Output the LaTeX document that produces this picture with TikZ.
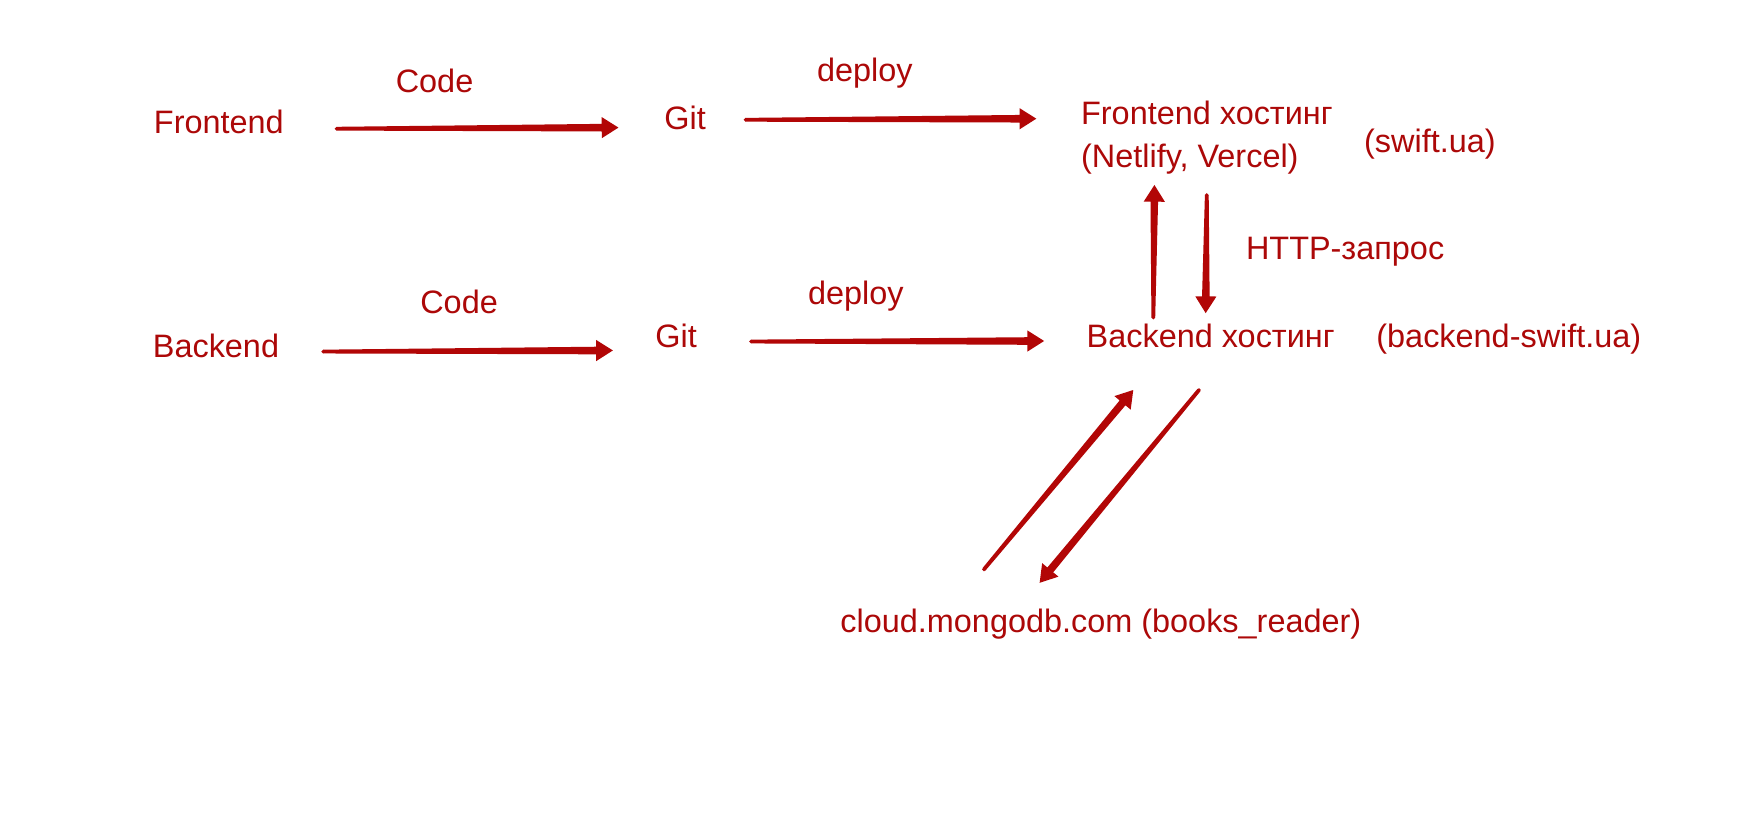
\documentclass[tikz,border=0pt]{standalone}
\usepackage{fontspec}
\setmainfont{Liberation Sans}
\usetikzlibrary{calc}
\definecolor{txtred}{RGB}{172,8,8}
\definecolor{arrred}{RGB}{178,6,6}
\newcommand\tarrow[2]{%
  \coordinate (tE) at ($(#2)!15pt!(#1)$);
  \fill[arrred] ($(#1)!1.7pt!-90:(tE)$) -- ($(tE)!3.4pt!90:(#1)$) -- ($(tE)!9.5pt!90:(#1)$)
    -- (#2) -- ($(tE)!9.5pt!-90:(#1)$) -- ($(tE)!3.4pt!-90:(#1)$) -- ($(#1)!1.7pt!90:(tE)$) -- cycle;
  \fill[arrred] (#1) circle (1.7pt);
}
\begin{document}
\begin{tikzpicture}[x=1pt,y=-1pt,
  lbl/.style={anchor=base west,inner sep=0pt,text=txtred,font=\fontsize{29.1}{34}\selectfont}]
\useasboundingbox[fill=white] (0,0) rectangle (1566,746.7);
% labels
\node[lbl] (code1) at (355,83) {Code};
\node[lbl] (fe) at (138,120) {Frontend};
\node[lbl] (git1) at (596,116) {Git};
\node[lbl] (dep1) at (733,73) {deploy};
\node[lbl] (feh) at (970,112) {Frontend хостинг};
\node[lbl] (fehs) at (970,150) {(Netlify, Vercel)};
\node[lbl] (swift) at (1224,137) {(swift.ua)};
\node[lbl] (http) at (1118,233) {HTTP-запрос};
\node[lbl] (code2) at (377,281) {Code};
\node[lbl] (dep2) at (725,273) {deploy};
\node[lbl] (be) at (137,321) {Backend};
\node[lbl] (git2) at (588,312) {Git};
\node[lbl] (beh) at (975,312) {Backend хостинг};
\node[lbl] (bswift) at (1235,312) {(backend-swift.ua)};
\node[lbl] (mongo) at (754,568) {cloud.mongodb.com (books\_reader)};
% arrow end points
\coordinate (a1s) at (302,115.5); \coordinate (a1e) at (555,114.5);
\coordinate (a2s) at (669,107.5); \coordinate (a2e) at (930,106.5);
\coordinate (a3s) at (290,315.5); \coordinate (a3e) at (550,314.5);
\coordinate (a4s) at (674,306.5); \coordinate (a4e) at (937,306);
\coordinate (ups) at (1035,285);  \coordinate (upe) at (1036,166);
\coordinate (dns) at (1083,175);  \coordinate (dne) at (1082,281);
\coordinate (d1s) at (883,511);   \coordinate (d1e) at (1017,350);
\coordinate (d2s) at (1076,350);  \coordinate (d2e) at (933,523);
\tarrow{a1s}{a1e}
\tarrow{a2s}{a2e}
\tarrow{a3s}{a3e}
\tarrow{a4s}{a4e}
\tarrow{ups}{upe}
\tarrow{dns}{dne}
\tarrow{d1s}{d1e}
\tarrow{d2s}{d2e}
\end{tikzpicture}
\end{document}
